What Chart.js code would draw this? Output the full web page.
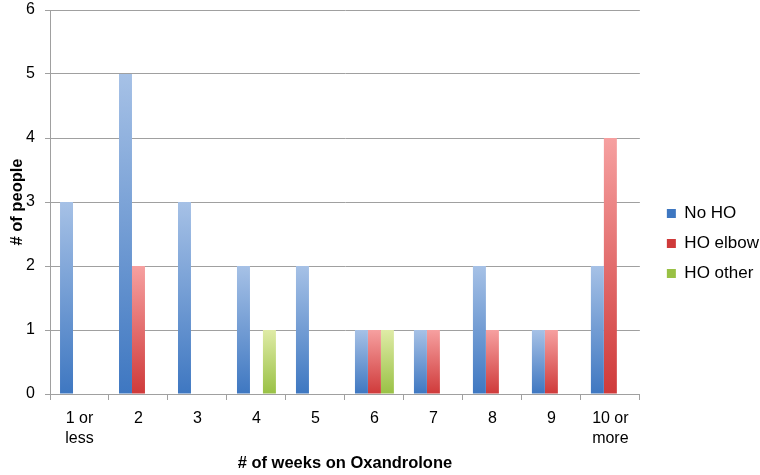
<!DOCTYPE html>
<html>
<head>
<meta charset="utf-8">
<script src="https://cdn.jsdelivr.net/npm/chart.js@4"></script>
<style>
  body { margin: 0; background: #fff; }
  #wrap { width: 760px; height: 475px; }
</style>
</head>
<body>
<div id="wrap"><canvas id="myChart"></canvas></div>
<script>
const categories = [["1 or", "less"], "2", "3", "4", "5", "6", "7", "8", "9", ["10 or", "more"]]
const noHO = [3, 5, 3, 2, 2, 1, 1, 2, 1, 2]
const hoElbow = [0, 2, 0, 0, 0, 1, 1, 1, 1, 4]
const hoOther = [0, 0, 0, 1, 0, 1, 0, 0, 0, 0]

// top / bottom colour of each series gradient
const shades = {
    blue: ['#a6c1e6', '#3e77c1'],
    red: ['#f6a0a0', '#cf3a3a'],
    green: ['#dfeba6', '#99c145']
}

function barFill(pair) {
    return function (context) {
        const chart = context.chart
        if (!chart.chartArea || context.type !== 'data') return pair[1]
        const y = chart.scales.y
        const top = y.getPixelForValue(context.raw)
        const bottom = y.getPixelForValue(0)
        if (top === bottom) return pair[1]
        const g = chart.ctx.createLinearGradient(0, top, 0, bottom)
        g.addColorStop(0, pair[0])
        g.addColorStop(1, pair[1])
        return g
    }
}

// nudge the legend a little right, like the original
const legendNudge = {
    id: 'legendNudge',
    afterLayout(chart) {
        const lg = chart.legend
        if (!lg) return
        lg.left += 14; lg.right += 14
        lg.top += 1; lg.bottom += 1
    }
}

const ctx = document.getElementById('myChart')
Chart.defaults.font.family = '"Liberation Sans", Arial, sans-serif'
Chart.defaults.color = '#000'

new Chart(ctx, {
    type: 'bar',
    data: {
        labels: categories,
        datasets: [
            { label: 'No HO', data: noHO, backgroundColor: barFill(shades.blue) },
            { label: 'HO elbow', data: hoElbow, backgroundColor: barFill(shades.red) },
            { label: 'HO other', data: hoOther, backgroundColor: barFill(shades.green) }
        ]
    },
    plugins: [legendNudge],
    options: {
        responsive: true,
        maintainAspectRatio: false,
        animation: false,
        layout: { padding: { top: 10, right: 5, left: 2, bottom: 0 } },
        datasets: {
            bar: { categoryPercentage: 0.66, barPercentage: 1.0 }
        },
        plugins: {
            tooltip: { enabled: false },
            legend: {
                position: 'right',
                labels: {
                    boxWidth: 9,
                    boxHeight: 9,
                    padding: 13,
                    font: { size: 17 },
                    generateLabels: function (chart) {
                        const cols = [shades.blue, shades.red, shades.green]
                        return chart.data.datasets.map((ds, i) => {
                            return {
                                text: ds.label,
                                fillStyle: cols[i][1],
                                strokeStyle: cols[i][1],
                                lineWidth: 0,
                                datasetIndex: i
                            }
                        })
                    }
                }
            }
        },
        scales: {
            x: {
                offset: true,
                grid: {
                    offset: true,
                    drawOnChartArea: false,
                    drawTicks: true,
                    tickLength: 6,
                    color: '#a0a0a0'
                },
                border: { color: '#a0a0a0' },
                ticks: { font: { size: 16, lineHeight: 1.25 }, maxRotation: 0, padding: 9 },
                title: {
                    display: true,
                    text: '# of weeks on Oxandrolone',
                    font: { size: 16.5, weight: 'bold' },
                    padding: { top: 10, bottom: 2 }
                },
                afterFit(scale) {
                    scale.height = 81
                    scale.paddingLeft = 0
                    scale.paddingRight = 0
                }
            },
            y: {
                min: 0,
                max: 6,
                ticks: { stepSize: 1, font: { size: 16 }, padding: 10 },
                grid: { color: '#a0a0a0', tickLength: 5 },
                border: { color: '#a0a0a0' },
                title: {
                    display: true,
                    text: '# of people',
                    font: { size: 16.5, weight: 'bold' },
                    padding: { top: 6, bottom: 2 }
                },
                afterFit(scale) {
                    scale.width = 48
                    scale.paddingTop = 0
                    scale.paddingBottom = 0
                }
            }
        }
    }
})
</script>
</body>
</html>
